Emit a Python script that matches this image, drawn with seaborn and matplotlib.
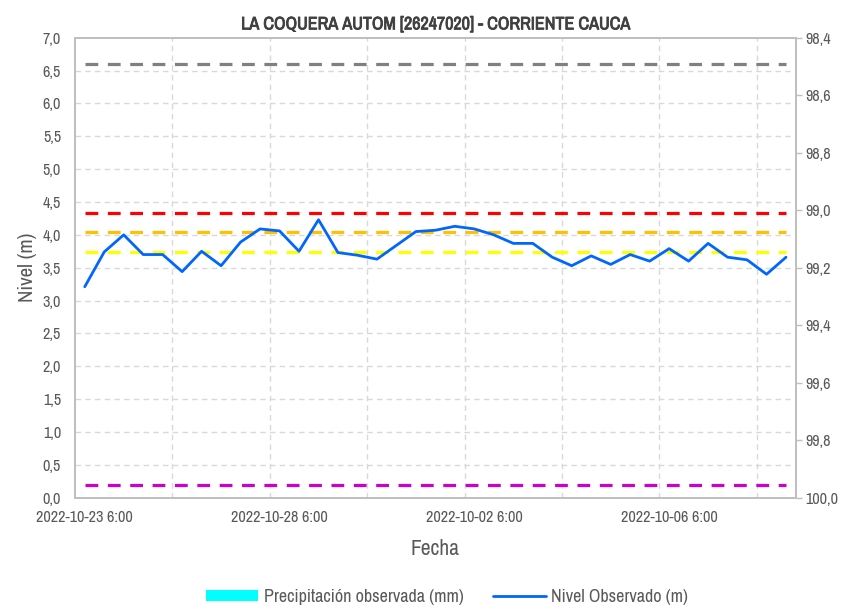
import numpy as np
import pandas as pd
import seaborn as sns
import matplotlib
matplotlib.use("Agg")
import matplotlib.pyplot as plt
import matplotlib.patheffects as pe
from matplotlib import font_manager
from matplotlib.patches import Patch
from matplotlib.lines import Line2D
from matplotlib.ticker import FuncFormatter, MultipleLocator, FixedLocator

# ---------------- data ----------------
nivel_observado = [3.21, 3.74, 4.00, 3.70, 3.70, 3.44, 3.75, 3.53, 3.89, 4.09,
                   4.06, 3.75, 4.23, 3.73, 3.69, 3.63, 3.84, 4.05, 4.07, 4.13,
                   4.09, 4.00, 3.87, 3.87, 3.66, 3.53, 3.68, 3.55, 3.70, 3.60,
                   3.79, 3.60, 3.87, 3.66, 3.62, 3.40, 3.66]
umbral_gris = 6.6
umbral_rojo = 4.34
umbral_naranja = 4.04
umbral_amarillo = 3.74
umbral_magenta = 0.2
tick_positions = [0, 10, 20, 30]
tick_labels = ["2022-10-23 6:00", "2022-10-28 6:00", "2022-10-02 6:00", "2022-10-06 6:00"]
right_ticks = [98.4, 98.6, 98.8, 99.0, 99.2, 99.4, 99.6, 99.8, 100.0]
title = "LA COQUERA AUTOM [26247020] - CORRIENTE CAUCA"

sns.set_theme(style="white")

# pick a narrow font if one is installed
narrow = None
for f in font_manager.fontManager.ttflist:
    nm = f.name.lower()
    if ("narrow" in nm or "condensed" in nm) and f.style == "normal":
        narrow = f.name
        break
families = ([narrow] if narrow else []) + ['Liberation Sans', 'DejaVu Sans']
plt.rcParams['font.family'] = families
k = 1.0 if narrow else 0.85

n = len(nivel_observado)
idx = np.arange(n)
df = pd.DataFrame({"idx": idx, "nivel": nivel_observado})

fig = plt.figure(figsize=(8.51, 6.10), dpi=100)
fig.patch.set_facecolor("white")
ax = fig.add_axes([75/851, 1-497.7/610, (795.75-75)/851, (497.7-37.7)/610])

tc = "#595959"
ax.set_ylim(0, 7.0)
ax.yaxis.set_major_locator(MultipleLocator(0.5))
ax.grid(False)
for y in np.arange(0.5, 7.0, 0.5):
    ax.axhline(y, color="#d9d9d9", lw=1.0, ls=(0, (4, 3)), zorder=0)
ax.set_xlim(-0.5, n - 0.5)
for xg in np.arange(4.5, n - 0.5, 5):
    ax.axvline(xg, color="#d9d9d9", lw=1.0, ls=(0, (4, 3)), zorder=0)

thresholds = [(umbral_gris, "#808080"), (umbral_rojo, "#ff0000"),
              (umbral_naranja, "#ffc000"), (umbral_amarillo, "#ffff00"),
              (umbral_magenta, "#cc00cc")]
for val, col in thresholds:
    tdf = pd.DataFrame({"idx": idx, "v": [val] * n})
    sns.lineplot(data=tdf, x="idx", y="v", ax=ax, color=col, lw=2.3,
                 dashes=False, zorder=2)
    ax.lines[-1].set_dashes((4.0, 3.0))

sns.lineplot(data=df, x="idx", y="nivel", ax=ax, color="#0066ff", lw=2.0, zorder=3)

ax.set_xticks(tick_positions)
ax.set_xticklabels(tick_labels)
ax.yaxis.set_major_formatter(FuncFormatter(lambda v, p: f"{v:.1f}".replace(".", ",")))
ax.tick_params(axis="both", labelsize=11.6 * k, colors=tc, length=0)
ax.tick_params(axis="x", pad=9)
ax.tick_params(axis="y", pad=10)
ax.set_xlabel("Fecha", fontsize=15.5 * k, color=tc, labelpad=10)
ax.set_ylabel("Nivel (m)", fontsize=15 * k, color=tc, labelpad=4)
t = ax.set_title(title, fontsize=13 * k, fontweight="bold", color="#404040", pad=6)
t.set_path_effects([pe.withStroke(linewidth=0.6, foreground="#404040")])

for s in ax.spines.values():
    s.set_color("#bfbfbf")
    s.set_linewidth(1.3)

ax2 = ax.twinx()
ax2.set_ylim(100.0, 98.4)
ax2.yaxis.set_major_locator(FixedLocator(right_ticks))
ax2.yaxis.set_major_formatter(FuncFormatter(lambda v, p: f"{v:.1f}".replace(".", ",")))
ax2.tick_params(axis="y", labelsize=11.6 * k, colors=tc, length=4, width=1, pad=3)
ax2.tick_params(axis="y", color="#bfbfbf")
ax2.grid(False)
for s in ax2.spines.values():
    s.set_color("#bfbfbf")
    s.set_linewidth(1.3)

handles = [Patch(facecolor="#00ffff", edgecolor="none"),
           Line2D([0], [0], color="#0066ff", lw=2.0)]
leg = fig.legend(handles, ["Precipitación observada (mm)", "Nivel Observado (m)"],
                 loc="center", bbox_to_anchor=(447/851, 1-597/610), ncol=2,
                 frameon=False, fontsize=13 * k, handlelength=2.9, handleheight=0.55,
                 columnspacing=1.65, handletextpad=0.3)
for tx in leg.get_texts():
    tx.set_color(tc)

fig.savefig("out.png", dpi=100)
